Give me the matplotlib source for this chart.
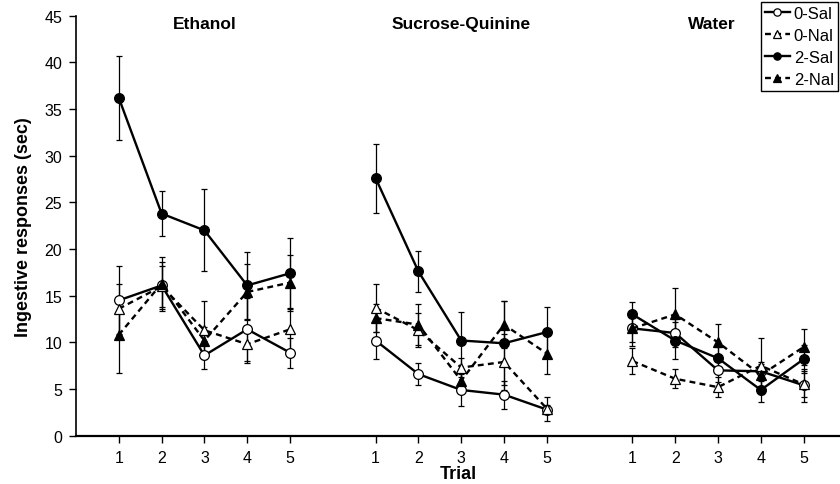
import matplotlib
matplotlib.use('Agg')
import matplotlib.pyplot as plt
import numpy as np

plt.rcParams['font.family'] = ['Liberation Sans', 'DejaVu Sans']

# 용액 그룹과 시행
groups = ['Ethanol', 'Sucrose-Quinine', 'Water']
trials = [1, 2, 3, 4, 5]

# 평균값 (Ethanol, Sucrose-Quinine, Water 순서)
sal0_mean = [[14.5, 16.1, 8.6, 11.4, 8.9], [10.2, 6.6, 4.9, 4.4, 2.8], [11.5, 11.0, 7.0, 6.9, 5.4]]
nal0_mean = [[13.6, 16.0, 11.3, 9.8, 11.4], [13.7, 11.3, 7.3, 7.9, 2.9], [8.0, 6.1, 5.2, 7.5, 5.5]]
sal2_mean = [[36.2, 23.8, 22.0, 16.1, 17.4], [27.6, 17.6, 10.2, 9.9, 11.1], [13.0, 10.2, 8.3, 4.9, 8.2]]
nal2_mean = [[10.8, 16.3, 10.2, 15.4, 16.4], [12.6, 11.9, 5.9, 11.9, 8.8], [11.5, 13.0, 10.0, 6.5, 9.5]]

# 표준오차
sal0_err = [[3.7, 2.5, 1.5, 3.4, 1.6], [2.0, 1.2, 1.7, 1.5, 0.5], [1.9, 1.5, 1.2, 1.0, 1.8]]
nal0_err = [[2.7, 2.2, 3.1, 2.0, 2.3], [2.6, 1.8, 1.0, 3.0, 1.3], [1.4, 1.0, 1.1, 3.0, 1.4]]
sal2_err = [[4.5, 2.4, 4.4, 3.6, 3.8], [3.7, 2.2, 3.1, 4.5, 2.7], [1.3, 2.0, 1.2, 1.3, 1.5]]
nal2_err = [[4.1, 2.9, 1.5, 3.0, 3.0], [1.5, 2.2, 1.0, 2.5, 2.2], [1.5, 2.8, 2.0, 1.2, 1.9]]

series = [
    ('0-Sal', sal0_mean, sal0_err, '-', 'o', 'white'),
    ('0-Nal', nal0_mean, nal0_err, '--', '^', 'white'),
    ('2-Sal', sal2_mean, sal2_err, '-', 'o', 'black'),
    ('2-Nal', nal2_mean, nal2_err, '--', '^', 'black'),
]

fig = plt.figure(figsize=(8.4, 4.85), dpi=100)
ax = fig.add_axes([76 / 840, 48.3 / 485, 764 / 840, 420 / 485])

gap = 6  # 그룹 사이 간격
handles = []
for label, means, errs, ls, mk, fc in series:
    for g in range(len(groups)):
        x = np.array(trials) + g * gap
        eb = ax.errorbar(x, means[g], yerr=errs[g], color='black', ls=ls, lw=1.7,
                         dashes=(2.5, 1.8) if ls == '--' else (None, None),
                         marker=mk, ms=7 if mk == 'o' else 7.5, mfc=fc, mec='black', mew=0.9,
                         ecolor='black', elinewidth=0.9, capsize=2.5, capthick=0.9)
    handles.append(eb[0])

ax.set_xlim(0, 17.85)
ax.set_ylim(0, 45)
ax.set_yticks(range(0, 46, 5))
ax.set_xticks([t + g * gap for g in range(3) for t in trials])
ax.set_xticklabels([str(t) for g in range(3) for t in trials])
ax.tick_params(direction='out', length=5, width=1, labelsize=11.5, pad=5)
ax.spines['top'].set_visible(False)
ax.spines['right'].set_visible(False)
ax.spines['left'].set_linewidth(1.2)
ax.spines['bottom'].set_linewidth(1.6)

# 그룹 제목
title_x = [3, 3 + gap, 3 + 2 * gap - 0.15]
for name, tx in zip(groups, title_x):
    ax.text(tx, 44.2, name, ha='center', va='center', fontsize=12.5, fontweight='bold')

ax.set_ylabel('Ingestive responses (sec)', fontsize=13, fontweight='bold', labelpad=9)
ax.set_xlabel('Trial', fontsize=13, fontweight='bold', labelpad=0.5)

leg = fig.legend(handles, [s[0] for s in series], loc='upper right',
                 bbox_to_anchor=(838 / 840, 1 - 3 / 485), fontsize=12,
                 handlelength=1.5, handletextpad=0.25, markerscale=0.75,
                 borderpad=0.25, labelspacing=0.42, borderaxespad=0,
                 fancybox=False, edgecolor='black', framealpha=1)
leg.get_frame().set_linewidth(1.0)

plt.savefig('out.png', dpi=100)
